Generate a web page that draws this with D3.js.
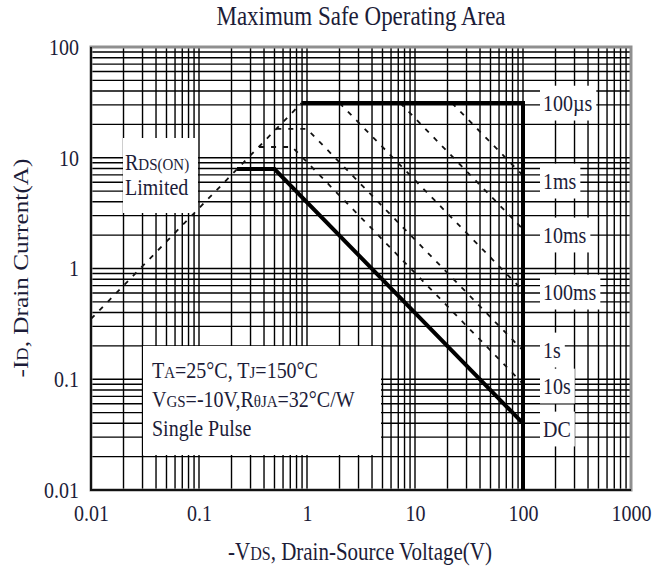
<!DOCTYPE html>
<html>
<head>
<meta charset="utf-8">
<script src="https://cdn.jsdelivr.net/npm/d3@7/dist/d3.min.js"></script>
<style>
  html, body { margin: 0; padding: 0; background: #fff; }
  svg { display: block; }
  text { font-family: "Liberation Serif", "DejaVu Serif", serif; fill: #1c1c38; }
</style>
</head>
<body>
<svg id="chart" width="653" height="570"></svg>
<script>
// ---- data ----
const xTicks = [0.01, 0.1, 1, 10, 100, 1000];
const yTicks = [0.01, 0.1, 1, 10, 100];
const xTickLabels = ["0.01", "0.1", "1", "10", "100", "1000"];
const yTickLabels = ["0.01", "0.1", "1", "10", "100"];

// [V, I] points for each boundary
const rdsLimit   = [[0.01, 0.35], [0.89, 31.2]];
const pulse100us = [[0.89, 31.2], [100, 31.2], [100, 0.01]];
const pulse1ms   = [[22, 31.2], [100, 6.9]];
const pulse10ms  = [[7.3, 31.2], [100, 2.26]];
const pulse100ms = [[2.0, 31.2], [100, 0.63]];
const pulse1s    = [[0.52, 18.2], [1.0, 18.2], [100, 0.182]];
const pulse10s   = [[0.36, 12.5], [0.73, 12.5], [100, 0.091]];
const dcLine     = [[0.225, 7.9], [0.5, 7.9], [100, 0.04]];

const curveLabels = ["100µs", "1ms", "10ms", "100ms", "1s", "10s", "DC"];
const curveLabelI = [31.2, 6.17, 2.01, 0.614, 0.184, 0.087, 0.0356];

// ---- layout ----
const SY = 1.15; // vertical stretch of the reference lettering
const svg = d3.select("#chart");
const x = d3.scaleLog().domain([0.01, 1000]).range([91, 631]);
const y = d3.scaleLog().domain([0.01, 100]).range([490, 47]);

function gridVals(lo, hi) {
  const v = [];
  for (let e = lo; e < hi; e++) for (let k = 1; k <= 9; k++) v.push(k * Math.pow(10, e));
  v.push(Math.pow(10, hi));
  return v;
}
const gx = gridVals(-2, 3);
const gy = gridVals(-2, 2);

const grid = svg.append("g");
grid.selectAll("line.v").data(gx).enter().append("line")
  .attr("x1", d => x(d)).attr("x2", d => x(d))
  .attr("y1", y(100)).attr("y2", y(0.01))
  .attr("stroke", "#000").attr("stroke-width", 1.4);
grid.selectAll("line.h").data(gy).enter().append("line")
  .attr("x1", x(0.01)).attr("x2", x(1000))
  .attr("y1", d => y(d)).attr("y2", d => y(d))
  .attr("stroke", "#000").attr("stroke-width", 1.4);

// white boxes that hide the grid
const boxes = svg.append("g");
boxes.append("rect").attr("x", 123).attr("y", 138).attr("width", 75).attr("height", 75).attr("fill", "#fff");
boxes.append("rect").attr("x", 143).attr("y", 346).attr("width", 238).attr("height", 109).attr("fill", "#fff");

// frame
svg.append("rect").attr("x", x(0.01)).attr("y", y(100))
  .attr("width", x(1000) - x(0.01)).attr("height", y(0.01) - y(100))
  .attr("fill", "none").attr("stroke", "#8f8f8f").attr("stroke-width", 3);
svg.append("path")
  .attr("d", `M${x(0.01)},${y(100)}V${y(0.01)}H${x(1000)}`)
  .attr("fill", "none").attr("stroke", "#111").attr("stroke-width", 2);

// curves
const line = d3.line().x(d => x(d[0])).y(d => y(d[1]));
const dashed = [rdsLimit, pulse1ms, pulse10ms, pulse100ms, pulse1s, pulse10s];
svg.append("g").selectAll("path").data(dashed).enter().append("path")
  .attr("d", line).attr("fill", "none").attr("stroke", "#111")
  .attr("stroke-width", 1.8).attr("stroke-dasharray", "5,7");
svg.append("g").selectAll("path").data([pulse100us, dcLine]).enter().append("path")
  .attr("d", line).attr("fill", "none").attr("stroke", "#000")
  .attr("stroke-width", 4).attr("stroke-linejoin", "miter");

function stretched(px, py, size) {
  return svg.append("g").attr("transform", `translate(${px},${py}) scale(1,${SY})`)
    .append("text").attr("x", 0).attr("y", 0).attr("font-size", size);
}

// right-hand curve labels with white backgrounds
curveLabels.forEach((t, i) => {
  const g = svg.append("g").attr("transform", `translate(543,${y(curveLabelI[i])}) scale(1,${SY})`);
  const txt = g.append("text").attr("x", 0).attr("y", 0).attr("dy", "0.33em")
    .attr("font-size", 20).text(t);
  const bb = txt.node().getBBox();
  g.insert("rect", "text").attr("x", bb.x - 3).attr("y", bb.y - 4)
    .attr("width", bb.width + 7).attr("height", bb.height + 8).attr("fill", "#fff");
});

// RDS(ON) Limited
const rds = stretched(125, 170, 20);
rds.append("tspan").text("R");
rds.append("tspan").attr("font-size", 15).text("DS(ON)");
stretched(125, 195, 20).text("Limited");

// conditions
const c1 = stretched(152, 378, 20);
c1.append("tspan").text("T"); c1.append("tspan").attr("font-size", 15).text("A");
c1.append("tspan").text("=25°C, T"); c1.append("tspan").attr("font-size", 15).text("J");
c1.append("tspan").text("=150°C");
const c2 = stretched(152, 407, 20);
c2.append("tspan").text("V"); c2.append("tspan").attr("font-size", 15).text("GS");
c2.append("tspan").text("=-10V,R"); c2.append("tspan").attr("font-size", 15).text("θJA");
c2.append("tspan").text("=32°C/W");
stretched(152, 436, 20).text("Single Pulse");

// axes
const xAxis = d3.axisBottom(x).tickValues(xTicks).tickSize(0).tickPadding(0)
  .tickFormat((d, i) => xTickLabels[i]);
const xa = svg.append("g").attr("transform", "translate(0,505)").call(xAxis);
xa.select(".domain").remove();
xa.selectAll("text").attr("font-size", 20).attr("font-family", "Liberation Serif")
  .attr("fill", "#1c1c38").attr("dy", "0.71em").attr("transform", `scale(1,${SY})`);

const yAxis = d3.axisLeft(y).tickValues(yTicks).tickSize(0).tickPadding(0)
  .tickFormat((d, i) => yTickLabels[i]);
const ya = svg.append("g").attr("transform", "translate(79,0)").call(yAxis);
ya.select(".domain").remove();
ya.selectAll("text").attr("font-size", 20).attr("font-family", "Liberation Serif")
  .attr("fill", "#1c1c38").attr("transform", `scale(1,${SY})`);

// titles
stretched(361, 25, 23).attr("text-anchor", "middle").text("Maximum Safe Operating Area");

const xt = stretched(360, 560, 21).attr("text-anchor", "middle");
xt.append("tspan").text("-V"); xt.append("tspan").attr("font-size", 16).text("DS");
xt.append("tspan").text(", Drain-Source Voltage(V)");

const yt = svg.append("g").attr("transform", `translate(28,268) rotate(-90) scale(${SY},1)`)
  .append("text").attr("text-anchor", "middle").attr("font-size", 22);
yt.append("tspan").text("-I"); yt.append("tspan").attr("font-size", 16).text("D");
yt.append("tspan").text(", Drain Current(A)");
</script>
</body>
</html>
